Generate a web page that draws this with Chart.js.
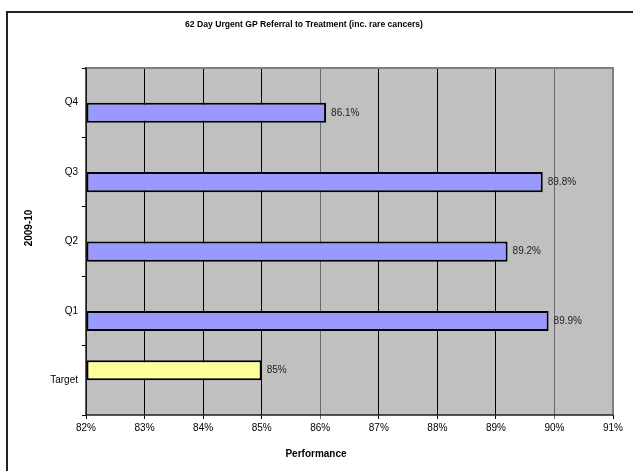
<!DOCTYPE html>
<html>
<head>
<meta charset="utf-8">
<script src="https://cdn.jsdelivr.net/npm/chart.js@4"></script>
<style>
html,body{margin:0;padding:0;background:#fff;}
#wrap{width:633px;height:471px;position:relative;}
</style>
</head>
<body>
<div id="wrap"><canvas id="c" width="633" height="471"></canvas></div>
<script>
const chartTitle = "62 Day Urgent GP Referral to Treatment (inc. rare cancers)";
const yAxisTitle = "2009-10";
const xAxisTitle = "Performance";
const categories = ["Q4", "Q3", "Q2", "Q1", "Target"];
const targetValues = [null, null, null, null, 85];
const actualValues = [86.1, 89.8, 89.2, 89.9, null];
const xMin = 82, xMax = 91;

const FONT = "'Liberation Sans', Arial, sans-serif";

const decor = {
  id: 'decor',
  beforeDraw(chart) {
    const {ctx, chartArea: a} = chart;
    ctx.save();
    ctx.fillStyle = '#fff';
    ctx.fillRect(0, 0, chart.width, chart.height);
    ctx.fillStyle = '#C0C0C0';
    ctx.fillRect(a.left, a.top, a.right - a.left, a.bottom - a.top);
    ctx.strokeStyle = '#222';
    ctx.lineWidth = 2;
    ctx.beginPath();
    ctx.moveTo(633, 12); ctx.lineTo(7, 12); ctx.lineTo(7, 471);
    ctx.stroke();
    ctx.restore();
  },
  afterDraw(chart) {
    const {ctx, chartArea: a} = chart;
    ctx.save();
    ctx.strokeStyle = '#808080';
    ctx.lineWidth = 2;
    ctx.beginPath();
    ctx.moveTo(a.left, a.top); ctx.lineTo(a.right, a.top); ctx.lineTo(a.right, a.bottom);
    ctx.stroke();
    ctx.strokeStyle = '#222';
    ctx.lineWidth = 1.5;
    ctx.beginPath();
    ctx.moveTo(a.left, a.top - 1); ctx.lineTo(a.left, a.bottom); ctx.lineTo(a.right, a.bottom);
    ctx.stroke();
    ctx.fillStyle = '#000';
    ctx.textAlign = 'center';
    ctx.textBaseline = 'middle';
    ctx.font = 'bold 8.6px ' + FONT;
    ctx.fillText(chartTitle, 304, 25);
    ctx.font = 'bold 10px ' + FONT;
    ctx.fillText(xAxisTitle, 316, 454);
    ctx.translate(29, 228);
    ctx.rotate(-Math.PI / 2);
    ctx.fillText(yAxisTitle, 0, 0);
    ctx.restore();
    ctx.save();
    ctx.font = '10px ' + FONT;
    ctx.fillStyle = '#222';
    ctx.textAlign = 'left';
    ctx.textBaseline = 'middle';
    chart.data.datasets.forEach((ds, di) => {
      const meta = chart.getDatasetMeta(di);
      meta.data.forEach((el, i) => {
        const v = ds.data[i];
        if (v === null || v === undefined) return;
        const txt = (Number.isInteger(v) ? v : v.toFixed(1)) + '%';
        ctx.fillText(txt, el.x + 5, el.y);
      });
    });
    ctx.restore();
  }
};

new Chart(document.getElementById('c'), {
  type: 'bar',
  data: {
    labels: categories,
    datasets: [
      { label: 'Target', data: targetValues, backgroundColor: '#FFFF99', borderColor: '#000', borderWidth: 2, borderSkipped: false },
      { label: 'Performance', data: actualValues, backgroundColor: '#9999FF', borderColor: '#000', borderWidth: 2, borderSkipped: false }
    ]
  },
  options: {
    indexAxis: 'y',
    responsive: false,
    animation: false,
    events: [],
    base: xMin,
    categoryPercentage: 0.58,
    barPercentage: 1.0,
    layout: { padding: { left: 0, top: 68, right: 20, bottom: 0 } },
    plugins: { legend: { display: false }, tooltip: { enabled: false }, title: { display: false } },
    scales: {
      x: {
        min: xMin, max: xMax,
        ticks: { stepSize: 1, callback: v => v + '%', font: { family: FONT, size: 10 }, color: '#000', padding: 3 },
        grid: {
          drawOnChartArea: true, drawTicks: true, tickLength: 4,
          color: ctx => (ctx.tick && (ctx.tick.value === 86 || ctx.tick.value === 90)) ? '#6a6a6a' : '#000',
          lineWidth: 1
        },
        border: { display: false },
        afterFit: s => { s.height = 56; }
      },
      y: {
        ticks: { font: { family: FONT, size: 10 }, color: '#000', padding: 4 },
        grid: { drawOnChartArea: false, drawTicks: true, tickLength: 4, offset: true, color: '#000' },
        border: { display: false },
        afterFit: s => { s.width = 86; }
      }
    }
  },
  plugins: [decor]
});
</script>
</body>
</html>
